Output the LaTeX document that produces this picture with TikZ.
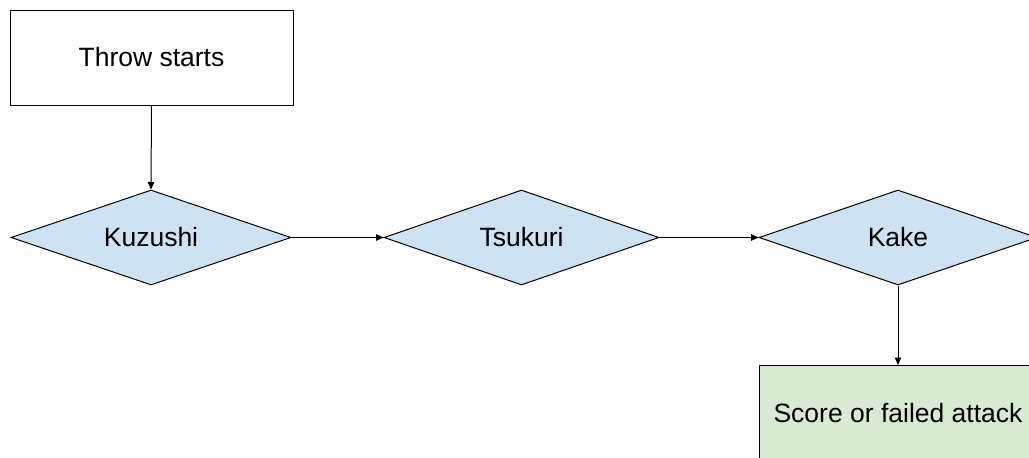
\documentclass[tikz,border=0pt]{standalone}
\usepackage{fontspec}
\setmainfont{Liberation Sans}
\usetikzlibrary{shapes.geometric,arrows.meta}
\definecolor{dblue}{HTML}{CFE2F3}
\definecolor{bgreen}{HTML}{D9EAD3}
\begin{document}
\begin{tikzpicture}[x=1pt,y=-1pt,
  every node/.style={font=\fontsize{26.5}{31}\selectfont, inner sep=0pt},
  boxnode/.style={draw=black, line width=1pt, rectangle, minimum width=283pt, minimum height=95pt},
  decision/.style={draw=black, line width=1pt, diamond, fill=dblue, minimum width=280pt, minimum height=95pt, aspect=2.95},
  conn/.style={line width=1pt, -{Triangle[length=7.5pt,width=6.5pt]}}]
\useasboundingbox (0,0) rectangle (1029,458);
\fill[white] (0,0) rectangle (1029,458);
\node[boxnode] (start) at (151.5,57.5) {Throw starts};
\node[decision] (kuz) at (151,237.5) {Kuzushi};
\node[decision, minimum width=275pt] (tsu) at (521.5,237.5) {Tsukuri};
\node[decision, minimum width=278pt] (kake) at (898,237.5) {Kake};
\node[boxnode, fill=bgreen, minimum width=278pt] (end) at (898,413) {Score or failed attack};
\draw[conn] (start.south) -- (kuz.north);
\draw[conn] (kuz.east) -- (tsu.west);
\draw[conn] (tsu.east) -- (kake.west);
\draw[conn] (kake.south) -- (end.north);
\end{tikzpicture}
\end{document}
